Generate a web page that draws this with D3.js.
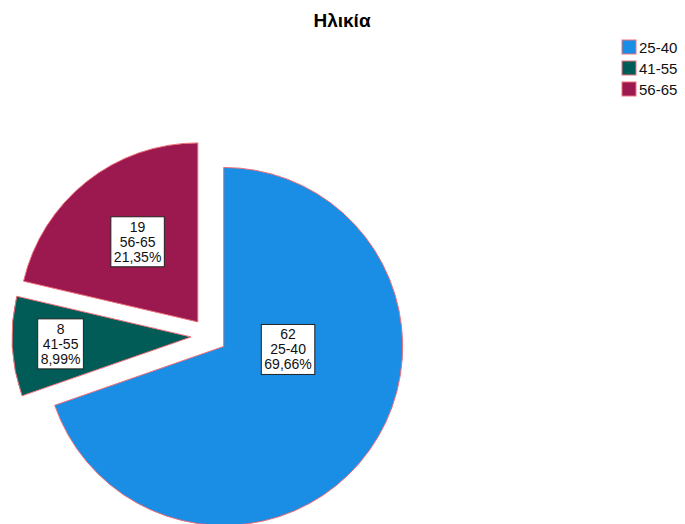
<!DOCTYPE html>
<html>
<head>
<meta charset="utf-8">
<script src="https://cdn.jsdelivr.net/npm/d3@7"></script>
<style>
  body { margin: 0; background: #fff; }
  svg { font-family: "Liberation Sans", Arial, sans-serif; }
</style>
</head>
<body>
<div id="chart"></div>
<script>
// data
const categories = ['25-40', '41-55', '56-65'];
const counts = [62, 8, 19];
const colors = ['#1a8de4', '#015c57', '#9b194f'];

class PieChart {

  constructor(_config) {
    this.config = {
      parentElement: _config.parentElement,
      containerWidth: 685,
      containerHeight: 524,
      cx: 209,
      cy: 336,
      radius: 179,
      explode: 18
    };
    this.initVis();
  }

  initVis() {
    let vis = this;

    vis.svg = d3.select(vis.config.parentElement)
      .append('svg')
      .attr('width', vis.config.containerWidth)
      .attr('height', vis.config.containerHeight);

    // title
    vis.svg.append('text')
      .attr('x', 342)
      .attr('y', 27)
      .attr('text-anchor', 'middle')
      .style('font-size', '19px')
      .style('font-weight', 'bold')
      .text('Ηλικία');

    vis.chart = vis.svg.append('g')
      .attr('transform', `translate(${vis.config.cx},${vis.config.cy})`);

    vis.legend = vis.svg.append('g')
      .attr('transform', 'translate(622,40)');

    vis.renderVis();
  }

  renderVis() {
    let vis = this;
    const total = d3.sum(counts);
    const data = categories.map((c, i) => ({ cat: c, n: counts[i], color: colors[i] }));

    const pie = d3.pie().sort(null).value(d => d.n);
    const arc = d3.arc().innerRadius(0).outerRadius(vis.config.radius);
    const arcs = pie(data);

    // label placement: angle shift (deg) and distance fraction of radius
    const labelLayout = [[-32.7, 0.36], [0, 0.73], [1.5, 0.56]];

    const slices = vis.chart.selectAll('.slice')
      .data(arcs)
      .join('g')
      .attr('class', 'slice')
      .attr('transform', d => {
        const a = (d.startAngle + d.endAngle) / 2;
        return `translate(${Math.sin(a) * vis.config.explode},${-Math.cos(a) * vis.config.explode})`;
      });

    slices.append('path')
      .attr('d', arc)
      .attr('fill', d => d.data.color)
      .attr('stroke', '#f0707a')
      .attr('stroke-width', 1);

    const fmt = v => (v * 100).toFixed(2).replace('.', ',') + '%';

    slices.each(function(d, i) {
      const g = d3.select(this);
      const a = (d.startAngle + d.endAngle) / 2 + labelLayout[i][0] * Math.PI / 180;
      const dist = labelLayout[i][1] * vis.config.radius;
      const x = Math.sin(a) * dist;
      const y = -Math.cos(a) * dist;
      const lines = [d.data.n, d.data.cat, fmt(d.data.n / total)];

      const lg = g.append('g').attr('transform', `translate(${x},${y})`);
      const rect = lg.append('rect');
      const txt = lg.append('text')
        .attr('text-anchor', 'middle')
        .style('font-size', '14px')
        .attr('fill', '#111');
      lines.forEach((t, k) => {
        txt.append('tspan')
          .attr('x', 0)
          .attr('y', (k - 1) * 15 + 5)
          .text(t);
      });
      const bb = txt.node().getBBox();
      rect.attr('x', bb.x - 3)
        .attr('y', bb.y - 2)
        .attr('width', bb.width + 6)
        .attr('height', bb.height + 4)
        .attr('fill', '#fff')
        .attr('stroke', '#222')
        .attr('stroke-width', 1);
    });

    // legend
    const items = vis.legend.selectAll('.item')
      .data(data)
      .join('g')
      .attr('class', 'item')
      .attr('transform', (d, i) => `translate(0,${i * 21})`);

    items.append('rect')
      .attr('width', 14)
      .attr('height', 14)
      .attr('fill', d => d.color)
      .attr('stroke', '#f0707a')
      .attr('stroke-width', 1);

    items.append('text')
      .attr('x', 17)
      .attr('y', 13)
      .style('font-size', '15px')
      .attr('fill', '#111')
      .text(d => d.cat);
  }
}

new PieChart({ parentElement: '#chart' });
</script>
</body>
</html>
